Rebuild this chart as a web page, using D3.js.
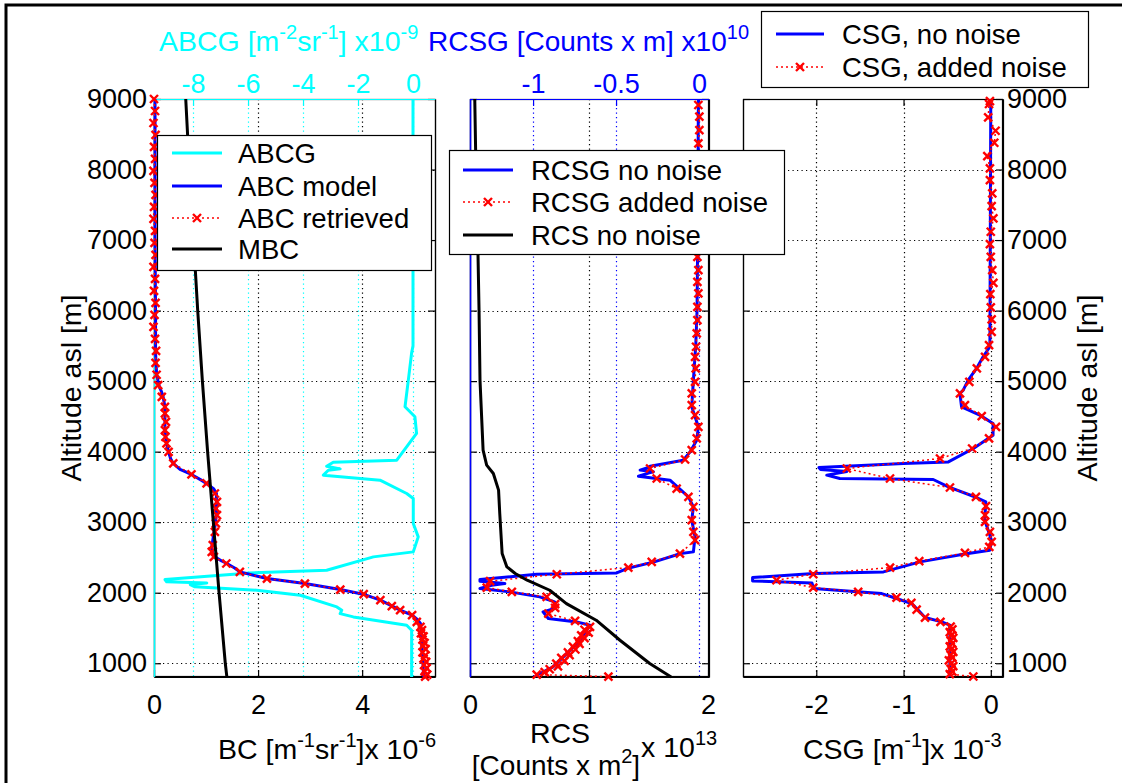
<!DOCTYPE html>
<html>
<head>
<meta charset="utf-8">
<script src="https://cdn.jsdelivr.net/npm/d3@7"></script>
<style>
html, body { margin: 0; background: #fff; overflow: hidden; }
svg { display: block; font-family: "Liberation Sans", Arial, sans-serif; }
</style>
</head>
<body>
<svg id="chart" width="1122" height="783"></svg>
<script>
// ---- data (altitude in m asl) ----
var altTicks = [1000, 2000, 3000, 4000, 5000, 6000, 7000, 8000, 9000];

// panel 1 : backscatter coefficients (x 1e-6) and gradient (x 1e-9)
var mbcAlt = [806, 1000, 2000, 3000, 4000, 5000, 6000, 7000, 8000, 9000];
var mbcVal = [1.40, 1.37, 1.25, 1.14, 1.03, 0.93, 0.84, 0.76, 0.68, 0.61];

var abcModelAlt = [9000, 8000, 7000, 6000, 5400, 5100, 4950, 4800, 4635, 4305, 4120, 3997, 3900, 3833, 3750, 3677, 3600, 3549, 3470, 3407, 3123, 2934, 2650, 2560, 2508, 2450, 2414, 2350, 2295, 2240, 2201, 2130, 2045, 1979, 1894, 1820, 1752, 1681, 1620, 1563, 1400, 1231, 1000, 806];
var abcModelVal = [0.02, 0.02, 0.02, 0.03, 0.03, 0.05, 0.09, 0.17, 0.21, 0.21, 0.24, 0.28, 0.32, 0.37, 0.50, 0.72, 0.90, 1.01, 1.15, 1.20, 1.20, 1.17, 1.11, 1.13, 1.17, 1.30, 1.40, 1.55, 1.65, 1.95, 2.17, 2.90, 3.58, 4.02, 4.35, 4.55, 4.73, 4.96, 5.06, 5.12, 5.14, 5.15, 5.17, 5.18];

var abcRetAlt = [9000, 8830, 8660, 8490, 8320, 8150, 7980, 7810, 7640, 7470, 7300, 7130, 6960, 6790, 6620, 6450, 6280, 6110, 5940, 5770, 5600, 5430, 5260, 5090, 4943, 4777, 4635, 4542, 4423, 4305, 4210, 4116, 3997, 3833, 3677, 3549, 3407, 3288, 3194, 3099, 2982, 2862, 2674, 2579, 2508, 2414, 2295, 2201, 2130, 2045, 1979, 1894, 1809, 1752, 1681, 1586, 1515, 1470, 1425, 1380, 1335, 1290, 1245, 1200, 1155, 1110, 1065, 1020, 975, 930, 885, 840, 810];
var abcRetVal = [0.00, 0.02, -0.01, 0.03, 0.00, 0.02, -0.01, 0.01, 0.03, 0.00, -0.01, 0.02, 0.01, 0.03, -0.01, 0.02, 0.00, 0.03, 0.01, -0.01, 0.02, 0.04, 0.03, 0.05, 0.08, 0.15, 0.21, 0.21, 0.23, 0.21, 0.22, 0.24, 0.28, 0.37, 0.72, 1.01, 1.17, 1.21, 1.19, 1.21, 1.19, 1.17, 1.13, 1.11, 1.15, 1.39, 1.65, 2.17, 2.90, 3.58, 4.03, 4.35, 4.57, 4.73, 4.96, 5.05, 5.12, 5.15, 5.13, 5.18, 5.16, 5.20, 5.17, 5.22, 5.16, 5.21, 5.18, 5.23, 5.19, 5.24, 5.20, 5.25, 5.21];

var abcgAlt = [9000, 5500, 5400, 5014, 4636, 4494, 4258, 3879, 3851, 3794, 3756, 3737, 3667, 3596, 3407, 3336, 2981, 2792, 2579, 2508, 2319, 2281, 2187, 2154, 2139, 2116, 2083, 2035, 1964, 1799, 1752, 1704, 1657, 1539, 1468, 806];
var abcgVal = [0.00, 0.00, -0.05, -0.17, -0.29, 0.07, 0.13, -0.59, -2.90, -3.14, -2.65, -3.08, -3.26, -1.20, -0.23, 0.01, 0.01, 0.19, 0.01, -1.44, -3.14, -5.93, -9.02, -8.96, -7.50, -8.10, -7.93, -5.68, -4.10, -2.77, -2.59, -2.65, -2.17, -0.23, -0.05, -0.05];

// panel 2 : range corrected signal (x 1e13) and its gradient (x 1e10)
var rcsAlt = [806, 996, 1326, 1610, 1846, 2035, 2177, 2272, 2366, 2556, 3123, 3454, 3690, 3809, 4021, 5014, 6000, 7000, 8000, 9000];
var rcsVal = [1.69, 1.51, 1.26, 1.06, 0.81, 0.67, 0.48, 0.38, 0.31, 0.27, 0.25, 0.24, 0.196, 0.14, 0.11, 0.084, 0.076, 0.065, 0.05, 0.04];

var rcsgModelAlt = [9000, 7000, 6000, 5500, 5014, 4635, 4352, 4163, 3997, 3879, 3794, 3776, 3738, 3714, 3700, 3652, 3596, 3359, 3217, 3028, 2792, 2579, 2556, 2437, 2343, 2281, 2262, 2187, 2163, 2130, 2105, 2059, 2012, 1941, 1870, 1776, 1728, 1634, 1586, 1539, 1326, 1137, 948, 830, 806];
var rcsgModelVal = [-0.004, -0.008, -0.012, -0.02, -0.034, -0.044, -0.004, -0.014, -0.054, -0.095, -0.295, -0.305, -0.355, -0.275, -0.30, -0.365, -0.175, -0.064, -0.034, -0.044, -0.024, -0.034, -0.11, -0.27, -0.435, -0.496, -0.978, -1.32, -1.32, -1.17, -1.25, -1.32, -1.14, -0.96, -0.87, -0.87, -0.94, -0.908, -0.737, -0.657, -0.717, -0.797, -0.88, -0.978, -0.98];

var rcsgNoisyAlt = [8915, 8749, 8560, 8372, 8190, 8010, 7830, 7650, 7470, 7290, 7110, 6940, 6763, 6574, 6408, 6244, 6054, 5865, 5676, 5487, 5345, 5180, 4990, 4825, 4659, 4518, 4352, 4187, 4021, 3889, 3761, 3619, 3477, 3359, 3217, 3028, 2863, 2745, 2555, 2437, 2357, 2262, 2163, 2073, 2012, 1941, 1837, 1785, 1704, 1600, 1515, 1475, 1435, 1395, 1355, 1315, 1275, 1235, 1195, 1155, 1115, 1075, 1035, 995, 955, 915, 875, 840, 810];
var rcsgNoisyVal = [-0.004, 0.002, 0.002, -0.004, 0.0, -0.006, 0.002, -0.004, -0.008, 0.0, -0.006, -0.004, -0.01, -0.004, -0.01, -0.004, -0.01, -0.01, -0.014, -0.018, -0.024, -0.02, -0.024, -0.044, -0.044, -0.024, -0.004, -0.014, -0.044, -0.084, -0.295, -0.255, -0.135, -0.064, -0.034, -0.044, -0.034, -0.024, -0.115, -0.285, -0.426, -0.857, -1.259, -1.279, -1.128, -0.918, -0.867, -0.867, -0.908, -0.747, -0.657, -0.69, -0.665, -0.71, -0.69, -0.73, -0.72, -0.76, -0.745, -0.79, -0.78, -0.83, -0.81, -0.86, -0.85, -0.9, -0.93, -0.978, -0.546];

// panel 3 : coefficient signal gradient (x 1e-3)
var csgModelAlt = [9000, 5500, 5487, 5345, 5180, 5014, 4872, 4825, 4635, 4518, 4400, 4234, 4045, 3855, 3833, 3776, 3747, 3719, 3667, 3619, 3605, 3501, 3350, 3288, 3028, 2745, 2603, 2546, 2437, 2295, 2272, 2215, 2167, 2139, 2059, 2012, 1988, 1918, 1846, 1752, 1648, 1586, 1539, 806];
var csgModelVal = [0.0, -0.01, -0.011, -0.088, -0.163, -0.259, -0.316, -0.354, -0.335, -0.126, 0.026, 0.026, -0.2, -0.486, -1.0, -1.97, -1.95, -1.65, -1.88, -1.73, -0.66, -0.486, -0.163, -0.057, -0.069, 0.008, -0.011, -0.316, -0.811, -1.23, -2.03, -2.73, -2.73, -2.05, -2.03, -1.53, -1.25, -1.08, -0.906, -0.83, -0.754, -0.563, -0.469, -0.469];

var csgNoisyAlt = [8970, 8929, 8740, 8550, 8380, 8191, 8017, 7851, 7662, 7482, 7308, 7118, 6943, 6763, 6574, 6394, 6234, 6045, 5875, 5699, 5511, 5345, 5180, 4990, 4825, 4659, 4503, 4352, 4187, 4045, 3903, 3761, 3619, 3492, 3359, 3227, 3099, 3005, 2863, 2721, 2650, 2565, 2447, 2357, 2262, 2177, 2073, 2012, 1931, 1856, 1761, 1648, 1586, 1520, 1480, 1440, 1400, 1360, 1320, 1280, 1240, 1200, 1160, 1120, 1080, 1040, 1000, 960, 920, 880, 845, 812];
var csgNoisyVal = [-0.01, -0.02, -0.03, 0.055, 0.04, -0.04, -0.01, -0.01, 0.017, 0.01, 0.03, 0.0, -0.01, 0.0, 0.017, 0.03, -0.005, 0.0, 0.01, 0.01, -0.02, -0.066, -0.16, -0.246, -0.353, -0.296, -0.104, 0.06, -0.02, -0.214, -0.582, -1.65, -1.155, -0.468, -0.17, -0.055, -0.066, -0.066, -0.01, 0.01, -0.017, -0.296, -0.82, -1.155, -2.035, -2.456, -2.035, -1.52, -1.08, -0.91, -0.85, -0.754, -0.577, -0.46, -0.44, -0.47, -0.45, -0.43, -0.46, -0.44, -0.47, -0.45, -0.43, -0.46, -0.44, -0.48, -0.45, -0.43, -0.46, -0.44, -0.47, -0.2];

// ---- drawing ----
var svg = d3.select("#chart");
var FS = 27;      // tick labels and legends
var FSL = 28.5;   // axis titles
var FSUP = 20;    // superscripts
var CYAN = "#00ffff", BLUE = "#0000ff", RED = "#ff0000";

var yAlt = d3.scaleLinear().domain([805, 9000]).range([677, 99]);

var xBC = d3.scaleLinear().domain([0, 5.4]).range([154, 435]);
var xABCG = d3.scaleLinear().domain([-9.42, 0.8]).range([154, 435]);
var xRCS = d3.scaleLinear().domain([0, 2.008]).range([470, 709]);
var xRCSG = d3.scaleLinear().domain([-1.38, 0.06]).range([470, 709]);
var xCSG = d3.scaleLinear().domain([-2.84, 0.14]).range([743, 1003]);

// outer frame (cut by the image on the right and bottom)
svg.append("rect").attr("x", 6).attr("y", 5).attr("width", 1200).attr("height", 900)
    .attr("fill", "none").attr("stroke", "#000").attr("stroke-width", 3);

function vgrid(scale, ticks, color) {
    var r = scale.range();
    svg.append("g").selectAll("line")
        .data(ticks.filter(function(t) { var p = scale(t); return p > r[0] + 2 && p < r[1] - 2; }))
        .enter().append("line")
        .attr("x1", function(d) { return Math.round(scale(d)) + 0.5; })
        .attr("x2", function(d) { return Math.round(scale(d)) + 0.5; })
        .attr("y1", 99).attr("y2", 677)
        .attr("stroke", color).attr("stroke-width", 1.2).attr("stroke-dasharray", "1.2,3.3");
}
function hgrid(x0, x1) {
    svg.append("g").selectAll("line")
        .data(altTicks.filter(function(t) { return t < 9000; }))
        .enter().append("line")
        .attr("x1", x0).attr("x2", x1)
        .attr("y1", function(d) { return Math.round(yAlt(d)) + 0.5; })
        .attr("y2", function(d) { return Math.round(yAlt(d)) + 0.5; })
        .attr("stroke", "#000").attr("stroke-width", 1.2).attr("stroke-dasharray", "1.2,3.3");
}
function styleAxis(g, color) {
    g.attr("font-size", FS).attr("font-family", null);
    g.selectAll("text").attr("fill", color);
    g.selectAll("line").attr("stroke", color).attr("stroke-width", 1.2);
    g.select(".domain").attr("stroke", color).attr("stroke-width", 1.2);
    return g;
}
var fmt = function(d) { return String(d); };

function line(xs, alts, vals) {
    return d3.line().x(function(d) { return xs(d[1]); }).y(function(d) { return yAlt(d[0]); })(d3.zip(alts, vals));
}
function solid(xs, alts, vals, color, w) {
    svg.append("path").attr("d", line(xs, alts, vals)).attr("fill", "none")
        .attr("stroke", color).attr("stroke-width", w).attr("stroke-linejoin", "round");
}
function noisy(xs, alts, vals) {
    svg.append("path").attr("d", line(xs, alts, vals)).attr("fill", "none")
        .attr("stroke", RED).attr("stroke-width", 1.5).attr("stroke-dasharray", "2,3");
    svg.append("g").selectAll("path").data(d3.zip(alts, vals)).enter().append("path")
        .attr("transform", function(d) { return "translate(" + xs(d[1]) + "," + yAlt(d[0]) + ")"; })
        .attr("d", "M-4,-4L4,4M-4,4L4,-4")
        .attr("stroke", RED).attr("stroke-width", 2.4).attr("fill", "none");
}

// ---------- panel 1 ----------
hgrid(154, 435);
vgrid(xBC, [0, 2, 4], "#000");
vgrid(xABCG, [-8, -6, -4, -2, 0], CYAN);
svg.append("rect").attr("x", 154.5).attr("y", 99.5).attr("width", 281).attr("height", 577)
    .attr("fill", "none").attr("stroke", "#000").attr("stroke-width", 1.2);
styleAxis(svg.append("g").attr("transform", "translate(0,677)")
    .call(d3.axisBottom(xBC).tickValues([0, 2, 4]).tickSizeInner(-7).tickSizeOuter(0).tickPadding(18).tickFormat(fmt)), "#000");
styleAxis(svg.append("g").attr("transform", "translate(154,0)")
    .call(d3.axisLeft(yAlt).tickValues(altTicks).tickSizeInner(-7).tickSizeOuter(0).tickPadding(7).tickFormat(d3.format("d"))), "#000");
styleAxis(svg.append("g").attr("transform", "translate(435,0)")
    .call(d3.axisRight(yAlt).tickValues(altTicks).tickSizeInner(-7).tickSizeOuter(0).tickFormat("")), "#000");
styleAxis(svg.append("g").attr("transform", "translate(0,99)")
    .call(d3.axisTop(xABCG).tickValues([-8, -6, -4, -2, 0]).tickSizeInner(-7).tickSizeOuter(0).tickPadding(6).tickFormat(fmt)), CYAN);
svg.append("line").attr("x1", 154.5).attr("x2", 154.5).attr("y1", 99).attr("y2", 677)
    .attr("stroke", CYAN).attr("stroke-width", 1.5);

solid(xABCG, abcgAlt, abcgVal, CYAN, 3);
solid(xBC, abcModelAlt, abcModelVal, BLUE, 3);
noisy(xBC, abcRetAlt, abcRetVal);
solid(xBC, mbcAlt, mbcVal, "#000", 3);

// ---------- panel 2 ----------
hgrid(470, 709);
vgrid(xRCS, [0, 1, 2], "#000");
vgrid(xRCSG, [-1, -0.5, 0], BLUE);
svg.append("rect").attr("x", 470.5).attr("y", 99.5).attr("width", 238).attr("height", 577)
    .attr("fill", "none").attr("stroke", "#000").attr("stroke-width", 1.2);
styleAxis(svg.append("g").attr("transform", "translate(0,677)")
    .call(d3.axisBottom(xRCS).tickValues([0, 1, 2]).tickSizeInner(-7).tickSizeOuter(0).tickPadding(18).tickFormat(fmt)), "#000");
styleAxis(svg.append("g").attr("transform", "translate(470,0)")
    .call(d3.axisLeft(yAlt).tickValues(altTicks).tickSizeInner(-7).tickSizeOuter(0).tickFormat("")), "#000");
styleAxis(svg.append("g").attr("transform", "translate(709,0)")
    .call(d3.axisRight(yAlt).tickValues(altTicks).tickSizeInner(-7).tickSizeOuter(0).tickFormat("")), "#000");
styleAxis(svg.append("g").attr("transform", "translate(0,99)")
    .call(d3.axisTop(xRCSG).tickValues([-1, -0.5, 0]).tickSizeInner(-7).tickSizeOuter(0).tickPadding(6).tickFormat(fmt)), BLUE);
svg.append("line").attr("x1", 470.5).attr("x2", 470.5).attr("y1", 99).attr("y2", 677)
    .attr("stroke", BLUE).attr("stroke-width", 1.5);

solid(xRCSG, rcsgModelAlt, rcsgModelVal, BLUE, 3);
noisy(xRCSG, rcsgNoisyAlt, rcsgNoisyVal);
solid(xRCS, rcsAlt, rcsVal, "#000", 3);

// ---------- panel 3 ----------
hgrid(743, 1003);
vgrid(xCSG, [-2, -1, 0], "#000");
svg.append("rect").attr("x", 743.5).attr("y", 99.5).attr("width", 259).attr("height", 577)
    .attr("fill", "none").attr("stroke", "#000").attr("stroke-width", 1.2);
styleAxis(svg.append("g").attr("transform", "translate(0,677)")
    .call(d3.axisBottom(xCSG).tickValues([-2, -1, 0]).tickSizeInner(-7).tickSizeOuter(0).tickPadding(18).tickFormat(fmt)), "#000");
styleAxis(svg.append("g").attr("transform", "translate(0,99)")
    .call(d3.axisTop(xCSG).tickValues([-2, -1, 0]).tickSizeInner(-7).tickSizeOuter(0).tickFormat("")), "#000");
styleAxis(svg.append("g").attr("transform", "translate(743,0)")
    .call(d3.axisLeft(yAlt).tickValues(altTicks).tickSizeInner(-7).tickSizeOuter(0).tickFormat("")), "#000");
styleAxis(svg.append("g").attr("transform", "translate(1003,0)")
    .call(d3.axisRight(yAlt).tickValues(altTicks).tickSizeInner(-7).tickSizeOuter(0).tickPadding(4).tickFormat(d3.format("d"))), "#000");

solid(xCSG, csgModelAlt, csgModelVal, BLUE, 3);
noisy(xCSG, csgNoisyAlt, csgNoisyVal);

// ---------- texts ----------
function richText(x, y, parts, color, anchor, size) {
    var t = svg.append("text").attr("x", x).attr("y", y).attr("fill", color)
        .attr("font-size", size || FSL).attr("text-anchor", anchor || "start");
    var raised = false;
    parts.forEach(function(p) {
        var s = t.append("tspan").text(p[0]);
        if (p[1] && !raised) { s.attr("dy", -12).attr("font-size", FSUP); raised = true; }
        else if (p[1]) { s.attr("font-size", FSUP); }
        else if (raised) { s.attr("dy", 12); raised = false; }
    });
    return t;
}
richText(159, 51, [["ABCG [m"], ["-2", 1], ["sr"], ["-1", 1], ["] x10"], ["-9", 1]], CYAN, "start", 28.5);
richText(428, 51, [["RCSG [Counts x m] x10"], ["10", 1]], BLUE, "start", 28);

richText(218, 759, [["BC [m"], ["-1", 1], ["sr"], ["-1", 1], ["]x 10"], ["-6", 1]], "#000");
richText(560, 743, [["RCS"]], "#000", "middle");
richText(556, 775, [["[Counts x m"], ["2", 1], ["]"]], "#000", "middle", 28);
richText(641, 757, [["x 10"], ["13", 1]], "#000");
richText(803, 759, [["CSG [m"], ["-1", 1], ["]x 10"], ["-3", 1]], "#000");

svg.append("text").attr("transform", "translate(81,388) rotate(-90)").attr("text-anchor", "middle")
    .attr("font-size", FSL).text("Altitude asl [m]");
svg.append("text").attr("transform", "translate(1097,388) rotate(-90)").attr("text-anchor", "middle")
    .attr("font-size", FSL).text("Altitude asl [m]");

// ---------- legends ----------
function legend(x, y, w, h, lx0, lx1, tx, items) {
    var g = svg.append("g");
    g.append("rect").attr("x", x + 0.5).attr("y", y + 0.5).attr("width", w).attr("height", h)
        .attr("fill", "#fff").attr("stroke", "#000").attr("stroke-width", 1.2);
    items.forEach(function(it) {
        if (it.kind === "noisy") {
            g.append("line").attr("x1", lx0).attr("x2", lx1).attr("y1", it.cy).attr("y2", it.cy)
                .attr("stroke", RED).attr("stroke-width", 1.5).attr("stroke-dasharray", "2,3");
            g.append("path").attr("transform", "translate(" + ((lx0 + lx1) / 2) + "," + it.cy + ")")
                .attr("d", "M-4,-4L4,4M-4,4L4,-4").attr("stroke", RED).attr("stroke-width", 2.4);
        } else {
            g.append("line").attr("x1", lx0).attr("x2", lx1).attr("y1", it.cy).attr("y2", it.cy)
                .attr("stroke", it.color).attr("stroke-width", 3);
        }
        g.append("text").attr("x", tx).attr("y", it.cy + 10).attr("font-size", FS + 0.5).text(it.label);
    });
}
legend(157, 135, 274, 135, 172, 222, 238, [
    {label: "ABCG", color: CYAN, cy: 153},
    {label: "ABC model", color: BLUE, cy: 186},
    {label: "ABC retrieved", kind: "noisy", cy: 218},
    {label: "MBC", color: "#000", cy: 249}
]);
legend(449, 150, 335, 104, 463, 513, 531, [
    {label: "RCSG no noise", color: BLUE, cy: 170},
    {label: "RCSG added noise", kind: "noisy", cy: 202},
    {label: "RCS no noise", color: "#000", cy: 235}
]);
legend(761, 11, 327, 76, 776, 824, 842, [
    {label: "CSG, no noise", color: BLUE, cy: 34},
    {label: "CSG, added noise", kind: "noisy", cy: 67}
]);
</script>
</body>
</html>
